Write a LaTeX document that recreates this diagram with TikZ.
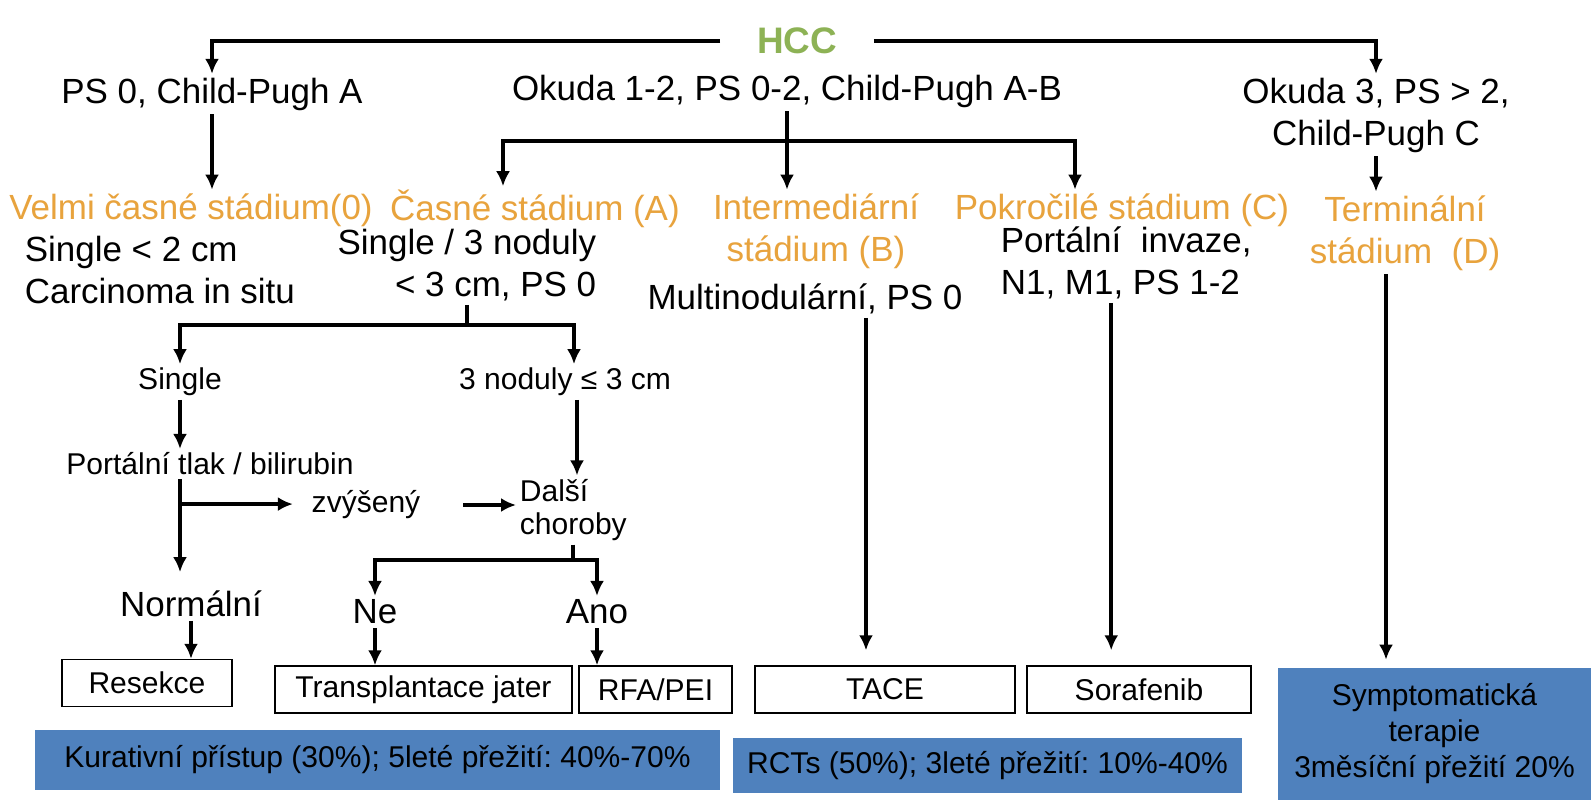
\documentclass[tikz,border=0pt]{standalone}
\usepackage{fontspec}
\setmainfont{Liberation Sans}
\usetikzlibrary{arrows.meta}
\definecolor{hccgreen}{RGB}{141,178,85}
\definecolor{stageorange}{RGB}{232,163,61}
\definecolor{barblue}{RGB}{79,129,189}
\frenchspacing
\tikzset{%
  >={Latex[width=2.8mm,length=3mm]},
  % Specifications for style of nodes:
        basetext/.style = {inner sep=2pt, align=center},
         bigtext/.style = {basetext, font=\fontsize{19.9}{23.9}\selectfont},
       smalltext/.style = {basetext, font=\fontsize{17.1}{18.8}\selectfont},
         hcctext/.style = {basetext, font=\bfseries\fontsize{21}{25}\selectfont, text=hccgreen},
           stage/.style = {bigtext, text=stageorange},
            crit/.style = {bigtext},
         subcrit/.style = {smalltext},
        treatbox/.style = {smalltext, rectangle, draw=black, line width=0.8pt,
                           minimum height=0.94cm, inner sep=0pt},
         bluebox/.style = {smalltext, rectangle, fill=barblue, inner sep=0pt},
            link/.style = {line width=2.3pt},
}
\begin{document}
\begin{tikzpicture}[x=0.02cm, y=-0.02cm]
  \fill[white] (0,0) rectangle (1591,800);
  \useasboundingbox (0,0) rectangle (1591,800);
  % Specification of nodes (top part)
  \node (hcc)     [hcctext, minimum width=3.06cm] at (797,41) {HCC};
  \node (ps0)     [crit] at (212,94) {PS 0, Child-Pugh A};
  \node (okAB)    [crit] at (787,91) {Okuda 1-2, PS 0-2, Child-Pugh A-B};
  \node (okD)     [crit] at (1376,115) {Okuda 3, PS > 2,\\Child-Pugh C};

  \node (st0)     [stage] at (191,210) {Velmi časné stádium(0)};
  \node (stA)     [stage] at (535,209) {Časné stádium (A)};
  \node (stB)     [stage] at (816,231) {Intermediární\\stádium (B)};
  \node (stC)     [stage] at (1122,210) {Pokročilé stádium (C)};
  \node (stD)     [stage] at (1405,233) {Terminální\\stádium~~(D)};

  \node (cr0)     [crit, align=left, anchor=west] at (21,270) {Single < 2 cm\\Carcinoma in situ};
  \node (crA)     [crit, align=right, anchor=east] at (600,265) {Single / 3 noduly\\< 3 cm, PS 0};
  \node (crB)     [crit] at (805,299) {Multinodulární, PS 0};
  \node (crC)     [crit, align=left, anchor=west] at (997,263) {Portální~~invaze,\\N1, M1, PS 1-2};

  % early stage branch
  \node (single)  [subcrit] at (180,382) {Single};
  \node (nod3)    [subcrit] at (565,382) {3 noduly ≤ 3 cm};
  \node (port)    [subcrit] at (210,464) {Portální tlak / bilirubin};
  \node (zvys)    [subcrit] at (366,505) {zvýšený};
  \node (dalsi)   [subcrit, align=left, anchor=west] at (516,510) {Další\\choroby};
  \node (normal)  [crit] at (191,604) {Normální};
  \node (ne)      [crit] at (375,612) {Ne};
  \node (ano)     [crit] at (597,612) {Ano};

  % treatments
  \node (res)     [treatbox, minimum width=3.4cm] at (147,683) {Resekce};
  \node (trans)   [treatbox, minimum width=5.94cm] at (423.5,689.5) {Transplantace jater};
  \node (rfa)     [treatbox, minimum width=3.06cm] at (655.5,689.5) {RFA/PEI};
  \node (tace)    [treatbox, minimum width=5.2cm] at (885,689.5) {TACE};
  \node (sora)    [treatbox, minimum width=4.48cm] at (1139,689.5) {Sorafenib};
  \node (symp)    [bluebox, minimum width=6.26cm, minimum height=2.64cm,
                   font=\fontsize{17.1}{20.5}\selectfont] at (1434.5,734)
                   {Symptomatická\\terapie\\3měsíční přežití 20\%};
  \node (kur)     [bluebox, minimum width=13.7cm, minimum height=1.2cm] at (377.5,760)
                   {Kurativní přístup (30\%); 5leté přežití: 40\%-70\%};
  \node (rct)     [bluebox, minimum width=10.18cm, minimum height=1.1cm] at (987.5,765.5)
                   {RCTs (50\%); 3leté přežití: 10\%-40\%};

  % connectors
  \draw[link,->]  (hcc.west) -| (ps0.north);
  \draw[link,->]  (hcc.east) -| (okD.north);
  \draw[link,->]  (ps0.south) -- (ps0.south |- st0.north);
  \draw[link,->]  (okAB.south) -- (okAB.south |- stB.north);
  \path           (okAB.south) ++(0,30) coordinate (splitA);
  \draw[link,->]  (splitA) -| ([xshift=-0.64cm]stA.north);
  \draw[link,->]  (splitA) -| ([xshift=-0.94cm]stC.north);
  \draw[link,->]  (okD.south) -- (okD.south |- stD.north);

  \path           (crA.south) ++(0,20) coordinate (splitS);
  \draw[link]     (crA.south) -- (splitS);
  \draw[link,->]  (splitS) -| (single.north);
  \draw[link,->]  (splitS) -| ([xshift=0.18cm]nod3.north);
  \draw[link,->]  (single.south) -- (single.south |- port.north);
  \path           (single.south |- port.south) coordinate (portS);
  \path           (portS) ++(0,25) coordinate (portB);
  \draw[link,->, shorten >=0.3cm] (portS) -- (portS |- normal.north);
  \draw[link,->, shorten >=0.3cm] (portB) -- (zvys.west |- portB);
  \draw[link,->, shorten <=0.78cm] (zvys.east) -- (zvys.east -| dalsi.west);
  \draw[link,->]  ([xshift=0.24cm]nod3.south) -- ([xshift=0.24cm]nod3.south |- dalsi.north);
  \path           (dalsi.south) ++(0,15) coordinate (dalsiS);
  \draw[link]     (dalsi.south) -- (dalsiS);
  \draw[link,->]  (dalsiS) -| (ne.north);
  \draw[link,->]  (dalsiS) -| (ano.north);

  \draw[link,->]  (normal.south) -- (normal.south |- res.north);
  \draw[link,->]  (ne.south) -- (ne.south |- trans.north);
  \draw[link,->]  (ano.south) -- (ano.south |- rfa.north);
  \draw[link,->, shorten >=0.3cm] ([xshift=1.22cm]crB.south) -- ([xshift=1.22cm]crB.south |- tace.north);
  \draw[link,->, shorten >=0.3cm] ([xshift=-0.3cm]crC.south) -- ([xshift=-0.3cm]crC.south |- sora.north);
  \draw[link,->, shorten >=0.16cm] ([xshift=-0.38cm]stD.south) -- ([xshift=-0.38cm]stD.south |- symp.north);
\end{tikzpicture}
\end{document}
